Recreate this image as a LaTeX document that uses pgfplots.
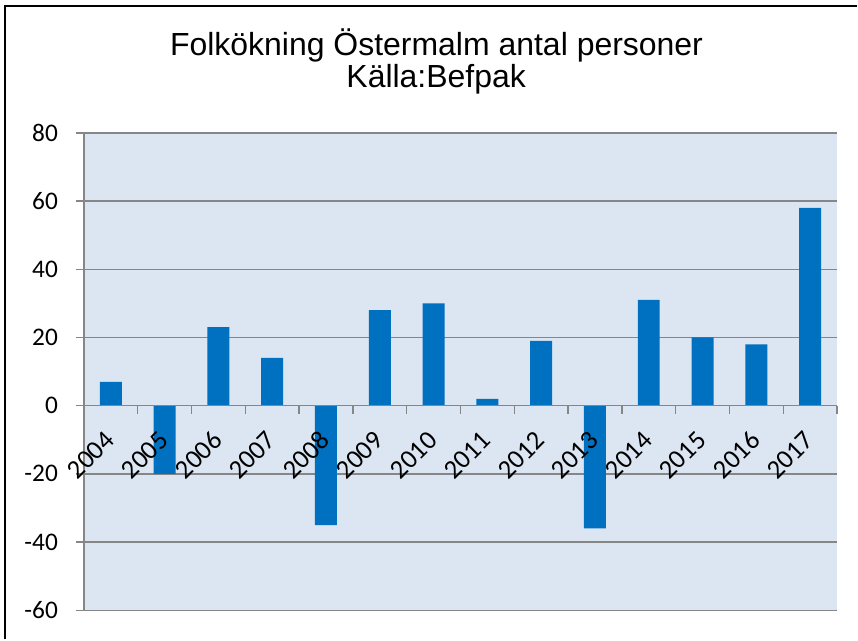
\documentclass[border=0pt]{standalone}
\usepackage{fontspec}
\setmainfont{Carlito}
\newfontfamily\arialfont{Liberation Sans}
\usepackage{pgfplots}
\pgfplotsset{compat=1.18}
\definecolor{barblue}{RGB}{0,112,192}
\definecolor{plotbg}{RGB}{220,230,242}
\definecolor{gridgray}{RGB}{134,134,134}

\begin{document}
\begin{tikzpicture}
\path (0,0) rectangle (643.5pt,480pt);
% outer chart frame (right and bottom edges fall outside the crop)
\draw[line width=1.5pt] (3.75pt,0pt) -- (3.75pt,475.5pt) -- (643.5pt,475.5pt);
\node[anchor=base, font=\arialfont\fontsize{24pt}{28pt}\selectfont] at (327.75pt,438pt) {Folkökning Östermalm antal personer};
\node[anchor=base, font=\arialfont\fontsize{24pt}{28pt}\selectfont] at (327.5pt,414pt) {Källa:Befpak};
\begin{axis}[
  at={(63pt,21.75pt)}, anchor=south west,
  width=565.5pt, height=358.5pt, scale only axis,
  set layers,
  ybar, bar width=16.5pt,
  xmin=-0.5, xmax=13.5, ymin=-60, ymax=80,
  axis x line=middle, axis y line=left,
  axis line style={-, draw=gridgray, line width=1.1pt},
  axis background/.style={fill=plotbg},
  ymajorgrids, grid style={gridgray, line width=1.1pt},
  tick align=outside, major tick length=6pt,
  tick style={draw=gridgray, line width=1.1pt},
  ytick={-60,-40,...,80},
  yticklabels={-60,-40,-20,0,20,40,60,80},
  yticklabel style={font=\fontsize{19pt}{22pt}\selectfont, xshift=-10pt},
  xtick={0,...,13},
  xticklabels={2004,2005,2006,2007,2008,2009,2010,2011,2012,2013,2014,2015,2016,2017},
  x tick style={draw=none},
  xticklabel style={font=\fontsize{20pt}{23pt}\selectfont, anchor=east, rotate=45, xshift=2.5pt},
  xticklabel shift=16pt,
  extra x ticks={-0.5,0.5,...,13.5},
  extra x tick labels={},
  extra x tick style={x tick style={draw=gridgray, line width=1.1pt}},
]
% bars on the grid layer: above the grid, below axis lines and tick labels
\addplot[fill=barblue, draw=none, on layer=axis grid] coordinates {
  (0,7) (1,-20) (2,23) (3,14) (4,-35) (5,28) (6,30)
  (7,2) (8,19) (9,-36) (10,31) (11,20) (12,18) (13,58)
};
\end{axis}
\end{tikzpicture}
\end{document}
